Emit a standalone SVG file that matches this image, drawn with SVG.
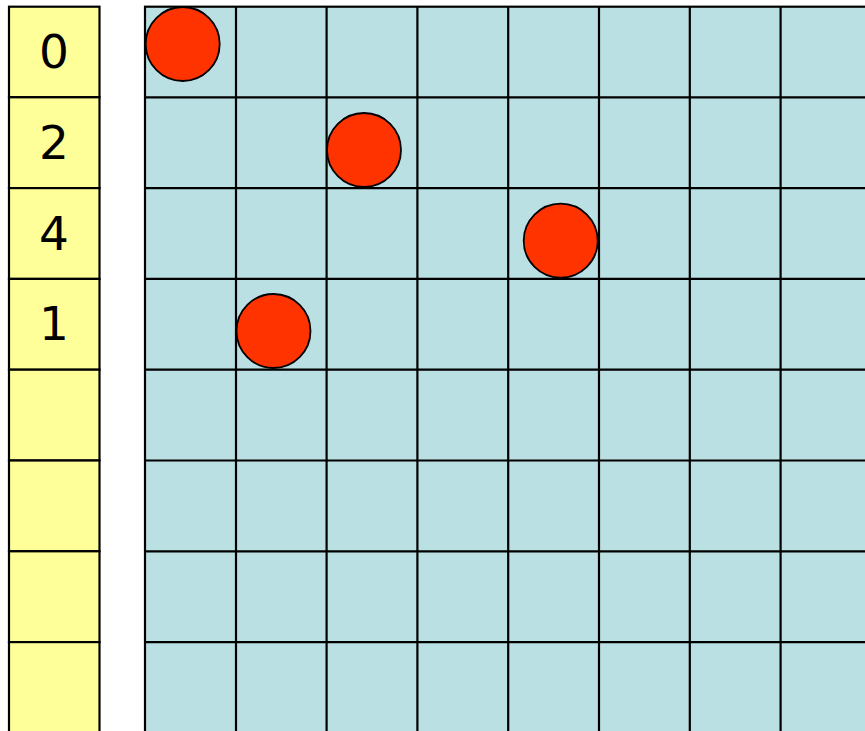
<svg xmlns="http://www.w3.org/2000/svg" width="865" height="731" viewBox="0 0 865 731">
<style>
.ycell{fill:#FFFF99;stroke:#000;stroke-width:2.2}
.bg{fill:#BBE0E3;stroke:#000;stroke-width:2.2}
.gl{stroke:#000;stroke-width:2.2;fill:none}
.ball{fill:#FF3300;stroke:#000;stroke-width:1.8}
.lbl{font-family:"Comic Sans MS","DejaVu Sans",sans-serif;font-size:47px;fill:#000;text-anchor:middle}
</style>
<rect width="865" height="731" fill="#fff"/>
<g id="array">
<rect class="ycell" x="9" y="6.7" width="90.5" height="90.5"/>
<rect class="ycell" x="9" y="97.3" width="90.5" height="90.8"/>
<rect class="ycell" x="9" y="188.1" width="90.5" height="90.8"/>
<rect class="ycell" x="9" y="278.9" width="90.5" height="90.8"/>
<rect class="ycell" x="9" y="369.7" width="90.5" height="90.8"/>
<rect class="ycell" x="9" y="460.5" width="90.5" height="90.8"/>
<rect class="ycell" x="9" y="551.3" width="90.5" height="90.8"/>
<rect class="ycell" x="9" y="642.1" width="90.5" height="100"/>
<text class="lbl" x="54" y="68">0</text>
<text class="lbl" x="54" y="159">2</text>
<text class="lbl" x="54" y="250">4</text>
<text class="lbl" x="54" y="340">1</text>
</g>
<g id="board">
<rect class="bg" x="145" y="6.7" width="740" height="740"/>
<path class="gl" d="M236,6.7V740 M326.6,6.7V740 M417.4,6.7V740 M508.2,6.7V740 M599,6.7V740 M689.8,6.7V740 M780.6,6.7V740 M145,97.3H870 M145,188.1H870 M145,278.9H870 M145,369.7H870 M145,460.5H870 M145,551.3H870 M145,642.1H870"/>
</g>
<g id="queens">
<circle class="ball" cx="182.7" cy="44" r="37"/>
<circle class="ball" cx="364" cy="150" r="37"/>
<circle class="ball" cx="560.7" cy="240.7" r="37"/>
<circle class="ball" cx="273.5" cy="331" r="37"/>
</g>
</svg>
